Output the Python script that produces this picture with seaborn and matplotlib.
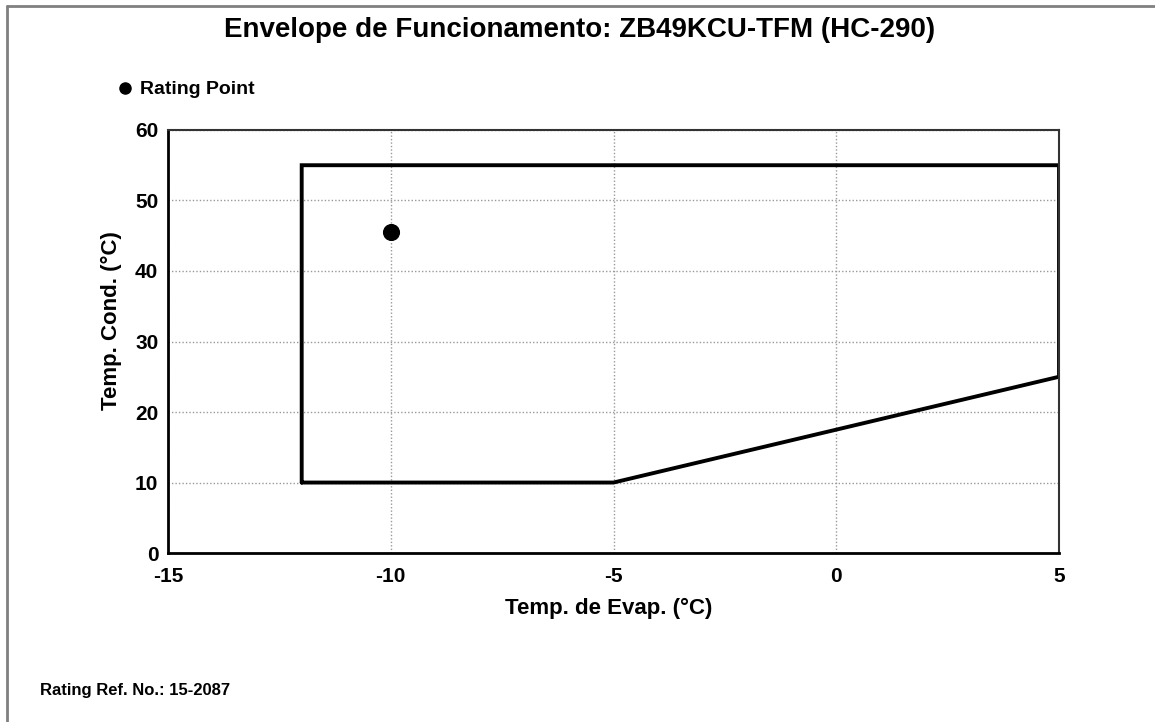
import matplotlib
matplotlib.use("Agg")
import matplotlib.pyplot as plt
import seaborn as sns
import pandas as pd
from matplotlib.lines import Line2D

# Data
env_x = [-12, -12, 5, 5, -5, -12]
env_y = [10, 55, 55, 25, 10, 10]
rating_x = [-10]
rating_y = [45.5]
x_ticks = [-15, -10, -5, 0, 5]
y_ticks = [0, 10, 20, 30, 40, 50, 60]

title = "Envelope de Funcionamento: ZB49KCU-TFM (HC-290)"
xlabel = "Temp. de Evap. (°C)"
ylabel = "Temp. Cond. (°C)"
legend_label = "Rating Point"
footer = "Rating Ref. No.: 15-2087"

sns.set_style("white")
plt.rcParams['font.family'] = ['Liberation Sans', 'DejaVu Sans']
plt.rcParams['text.color'] = 'black'
plt.rcParams['axes.labelcolor'] = 'black'
plt.rcParams['xtick.color'] = 'black'
plt.rcParams['ytick.color'] = 'black'

fig = plt.figure(figsize=(11.55, 7.22), dpi=100)
ax = fig.add_axes([0.1455, 0.234, 0.9169 - 0.1455, 0.82 - 0.234])

env = pd.DataFrame({"x": env_x, "y": env_y})
sns.lineplot(data=env, x="x", y="y", sort=False, estimator=None, color="black",
             linewidth=2.8, ax=ax, solid_joinstyle="miter")
rp = pd.DataFrame({"x": rating_x, "y": rating_y})
sns.scatterplot(data=rp, x="x", y="y", color="black", s=130, ax=ax, zorder=5, edgecolor="black")

ax.set_xlim(-15, 5)
ax.set_ylim(0, 60)
ax.set_xticks(x_ticks)
ax.set_yticks(y_ticks)
ax.set_xticklabels([str(v) for v in x_ticks], fontsize=15, fontweight="bold")
ax.set_yticklabels([str(v) for v in y_ticks], fontsize=15, fontweight="bold")
ax.tick_params(axis="both", direction="out", length=6, width=1.5, color="black", pad=1)
ax.tick_params(axis="x", pad=4)
ax.grid(True, linestyle=(0, (1, 1.5)), color="#999999", linewidth=1)
for s in ["left", "bottom"]:
    ax.spines[s].set_linewidth(2)
    ax.spines[s].set_color("black")
for s in ["top", "right"]:
    ax.spines[s].set_linewidth(1.5)
    ax.spines[s].set_color("#333333")

ax.set_xlabel(xlabel, fontsize=16, fontweight="bold", labelpad=6)
ax.set_ylabel(ylabel, fontsize=16, fontweight="bold", labelpad=8)
ax.yaxis.set_label_coords((122 - 168) / (1059 - 168), (553 - 321) / (553 - 130))
ax.xaxis.set_label_coords((609 - 168) / (1059 - 168), (553 - 598) / (553 - 130))

fig.text(0.502, 1 - 30 / 722, title, ha="center", va="center", fontsize=20, fontweight="bold")

# legend-like marker and label
fig.add_artist(Line2D([125 / 1155], [1 - 88 / 722], marker="o", color="black",
                      markersize=8, linestyle="none", transform=fig.transFigure))
fig.text(140 / 1155, 1 - 89 / 722, legend_label, ha="left", va="center", fontsize=14, fontweight="bold")

fig.text(40 / 1155, 1 - 690 / 722, footer, ha="left", va="center", fontsize=12, fontweight="bold")

# figure frame (top and left)
fig.add_artist(Line2D([7 / 1155, 1], [1 - 6 / 722, 1 - 6 / 722], color="#808080", linewidth=2,
                      transform=fig.transFigure))
fig.add_artist(Line2D([7 / 1155, 7 / 1155], [0, 1 - 6 / 722], color="#808080", linewidth=2,
                      transform=fig.transFigure))

fig.savefig("out.png", dpi=100)
